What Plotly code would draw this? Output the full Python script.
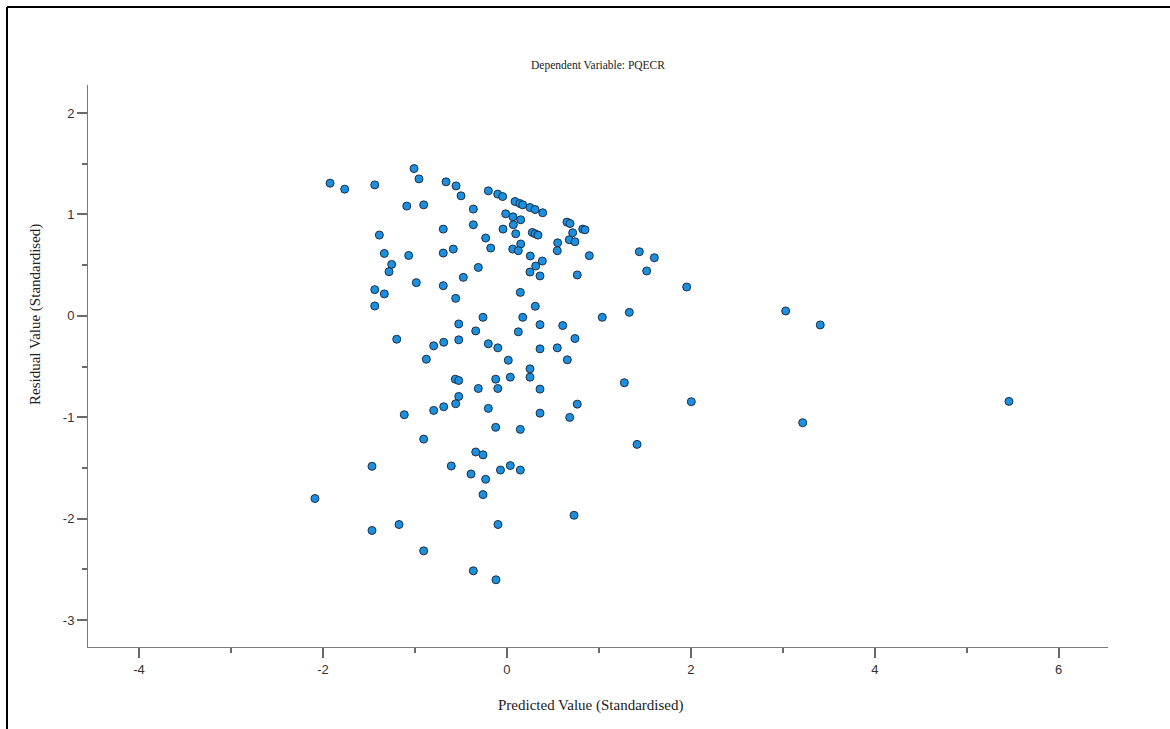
import plotly.graph_objects as go

# Predicted value (standardised) and residual value (standardised)
predicted = [
    -1.923, -1.764, -1.437, -1.010, -0.956, -0.662, -0.553, -0.499, -0.202, -1.089,
    -0.905, -0.365, -1.387, -0.692, -0.365, -0.231, -1.333, -1.068, -1.253, -1.282,
    -0.692, -0.583, -0.176, -0.311, -0.474, -1.437, -1.333, -0.985, -0.692, -0.557,
    -1.437, -0.260, -0.100, -0.046, 0.088, 0.142, 0.172, 0.251, 0.306, 0.389,
    -0.013, 0.066, 0.150, 0.070, -0.042, 0.096, 0.276, 0.306, 0.338, 0.150,
    0.063, 0.124, 0.254, 0.385, 0.313, 0.251, 0.360, 0.653, 0.686, 0.824,
    0.849, 0.715, 0.678, 0.740, 0.552, 0.548, 0.896, 0.765, 1.440, 0.146,
    0.309, 0.172, 1.037, 1.331, 1.603, 1.520, 1.955, 3.031, 3.407, 1.277,
    2.005, 1.415, 3.216, 5.459, -0.524, -0.339, -1.198, -0.796, -0.687, -0.524,
    -0.202, -0.099, -0.876, -0.561, -0.524, -0.122, -0.311, -0.099, -0.524, -0.557,
    -0.687, -0.796, -0.202, -1.116, -0.122, -0.905, -0.339, -0.260, -1.467, -0.605,
    -0.390, -0.231, -0.070, 0.360, 0.607, 0.124, 0.740, 0.360, 0.548, 0.015,
    0.657, 0.251, 0.251, 0.037, 0.360, 0.765, 0.683, 0.360, 0.146, 0.037,
    0.146, -0.260, -2.087, -1.467, -1.173, -0.097, -0.905, -0.365, -0.119, 0.730,
]
residual = [
    1.308, 1.249, 1.291, 1.452, 1.350, 1.321, 1.281, 1.183, 1.232, 1.082,
    1.094, 1.052, 0.796, 0.855, 0.898, 0.767, 0.615, 0.595, 0.507, 0.435,
    0.619, 0.658, 0.668, 0.477, 0.379, 0.258, 0.216, 0.327, 0.297, 0.172,
    0.097, -0.015, 1.200, 1.176, 1.127, 1.107, 1.094, 1.068, 1.048, 1.016,
    1.006, 0.976, 0.947, 0.898, 0.855, 0.809, 0.822, 0.809, 0.796, 0.708,
    0.658, 0.642, 0.590, 0.540, 0.491, 0.432, 0.393, 0.924, 0.910, 0.855,
    0.848, 0.819, 0.750, 0.730, 0.720, 0.642, 0.593, 0.403, 0.632, 0.231,
    0.094, -0.015, -0.015, 0.034, 0.573, 0.442, 0.284, 0.048, -0.090, -0.660,
    -0.847, -1.268, -1.054, -0.844, -0.080, -0.149, -0.231, -0.296, -0.261, -0.237,
    -0.276, -0.316, -0.428, -0.625, -0.638, -0.625, -0.717, -0.717, -0.795, -0.867,
    -0.897, -0.933, -0.913, -0.975, -1.100, -1.216, -1.343, -1.371, -1.484, -1.481,
    -1.560, -1.612, -1.521, -0.087, -0.096, -0.158, -0.224, -0.326, -0.316, -0.438,
    -0.434, -0.523, -0.605, -0.605, -0.723, -0.871, -1.002, -0.960, -1.120, -1.477,
    -1.521, -1.763, -1.802, -2.117, -2.058, -2.058, -2.318, -2.515, -2.603, -1.967,
]

title_text = "Dependent Variable: PQECR"
x_title = "Predicted Value (Standardised)"
y_title = "Residual Value (Standardised)"
x_ticks = [-4, -2, 0, 2, 4, 6]
y_ticks = [-3, -2, -1, 0, 1, 2]

FONT = "Liberation Serif, Times New Roman, serif"
TICKFONT = "Liberation Sans, Arial, sans-serif"

fig = go.Figure()
fig.add_trace(go.Scatter(
    x=predicted, y=residual, mode="markers",
    marker=dict(size=8, color="#1b8fe0", line=dict(color="#1b2f45", width=1)),
    hoverinfo="skip", showlegend=False,
))

axis_common = dict(
    showgrid=False, zeroline=False, showline=True, linecolor="#7a7a7a", linewidth=1,
    ticks="outside", ticklen=10, tickwidth=2, tickcolor="#6a6a6a",
    tickfont=dict(family=TICKFONT, size=13, color="#333333"),
)

fig.update_layout(
    width=1170, height=729, autosize=False,
    margin=dict(l=88, r=62, t=85, b=82),
    paper_bgcolor="white", plot_bgcolor="white",
    title=dict(text=title_text, x=0.5, xref="paper", xanchor="center",
               y=1 - 65 / 729, yanchor="middle",
               font=dict(family=FONT, size=11.5, color="#222222")),
    xaxis=dict(range=[-4.555, 6.536], tickvals=x_ticks,
               ticktext=[str(v) for v in x_ticks], **axis_common,
               minor=dict(dtick=1, tick0=-5, ticks="outside", ticklen=5, tickwidth=2, tickcolor="#6a6a6a")),
    yaxis=dict(range=[-3.266, 2.276], tickvals=y_ticks,
               ticktext=[str(v) for v in y_ticks], **axis_common,
               minor=dict(dtick=0.5, tick0=-3.5, ticks="outside", ticklen=5, tickwidth=2, tickcolor="#6a6a6a")),
    annotations=[
        dict(text=x_title, xref="paper", yref="paper", x=(591 - 88) / 1020, y=(647 - 705) / 562,
             xanchor="center", yanchor="middle", showarrow=False,
             font=dict(family=FONT, size=15, color="#222222")),
        dict(text=y_title, xref="paper", yref="paper", x=(35 - 88) / 1020, y=(647 - 315) / 562,
             xanchor="center", yanchor="middle", showarrow=False, textangle=-90,
             font=dict(family=FONT, size=15, color="#222222")),
    ],
    shapes=[
        dict(type="line", xref="paper", yref="paper",
             x0=(7 - 88) / 1020, x1=(7 - 88) / 1020, y0=(647 - 740) / 562, y1=(647 - 7) / 562,
             line=dict(color="black", width=2)),
        dict(type="line", xref="paper", yref="paper",
             x0=(7 - 88) / 1020, x1=(1180 - 88) / 1020, y0=(647 - 7) / 562, y1=(647 - 7) / 562,
             line=dict(color="black", width=2)),
    ],
)

fig.write_html("out.html", config={"displayModeBar": False},
               post_script="document.body.style.margin='0';document.body.style.overflow='hidden';")
